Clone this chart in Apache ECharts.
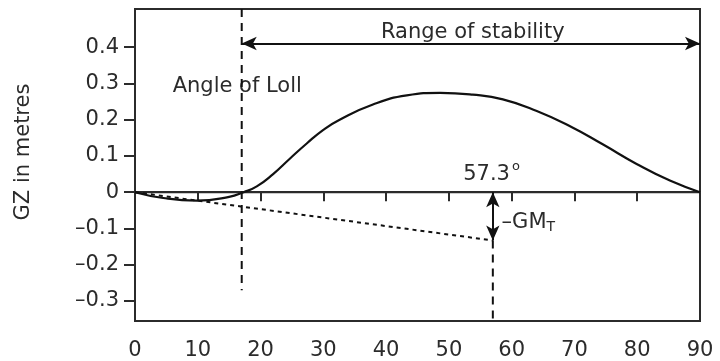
<!DOCTYPE html>
<html>
<head>
<meta charset="utf-8">
<script src="https://cdn.jsdelivr.net/npm/echarts@6/dist/echarts.min.js"></script>
<style>
  html, body { margin: 0; padding: 0; background: #fff; }
  #chart { width: 720px; height: 361px; }
</style>
</head>
<body>
<div id="chart"></div>
<script>
// GZ curve (heel angle in degrees, GZ in metres)
const gzAngles = [0, 4.5, 9.8, 15, 17.3, 19.4, 22, 24.7, 27.4, 30, 32.6, 37.9, 43.3, 48.6, 53.8, 58.6, 64, 69.3, 74.5, 79.9, 85.2, 90];
const gzValues = [0, -0.016, -0.023, -0.013, 0, 0.016, 0.05, 0.093, 0.135, 0.172, 0.2, 0.242, 0.267, 0.274, 0.269, 0.256, 0.224, 0.182, 0.132, 0.078, 0.032, 0];

const xTicks = [0, 10, 20, 30, 40, 50, 60, 70, 80, 90];
const yTicks = [-0.3, -0.2, -0.1, 0, 0.1, 0.2, 0.3, 0.4];

const lollAngle = 17;
const radianAngle = 57;      // 57.3 degrees mark
const gmValue = -0.133;      // tangent value at one radian
const rangeArrowY = 0.41;
const lollLineBottom = -0.27;
const zeroLineEnd = 93.2;

// annotation texts: [angle, gz, text]
const notes = [
  [53.8, 0.44, 'Range of stability'],
  [6, 0.32, 'Angle of Loll'],
  [56.8, 0.05, '57.3{sup|o}'],
  [58.4, -0.05, '–GM{sub|T}']
];

const yMin = -0.355, yMax = 0.505;
const ink = '#2b2b2b';
const font = "'DejaVu Sans', sans-serif";

const chart = echarts.init(document.getElementById('chart'));

chart.setOption({
  animation: false,
  backgroundColor: '#fff',
  textStyle: { fontFamily: font, color: ink },
  grid: {
    left: 135, right: 20, top: 9, bottom: 38,
    show: true, borderColor: ink, borderWidth: 2
  },
  graphic: [
    {
      type: 'text',
      x: 24, y: 152,
      rotation: Math.PI / 2,
      style: {
        text: 'GZ in metres',
        font: "21px 'DejaVu Sans', sans-serif",
        fill: ink,
        textAlign: 'center',
        textVerticalAlign: 'middle'
      }
    }
  ],
  xAxis: {
    type: 'value',
    min: 0, max: 90, interval: 10,
    splitLine: { show: false },
    axisLine: { lineStyle: { color: ink, width: 2 } },
    axisTick: { length: 9, lineStyle: { color: ink, width: 2 } },
    axisLabel: {
      fontSize: 21, color: ink, margin: 19, fontFamily: font,
      customValues: xTicks
    }
  },
  yAxis: {
    type: 'value',
    min: yMin, max: yMax,
    splitLine: { show: false },
    axisLine: { show: true, lineStyle: { color: ink, width: 2 } },
    axisTick: { length: 11, lineStyle: { color: ink, width: 2 }, customValues: yTicks },
    axisLabel: {
      fontSize: 21, color: ink, margin: 16, fontFamily: font,
      customValues: yTicks,
      formatter: v => v < 0 ? '–' + Math.abs(v) : String(v)
    }
  },
  series: [
    {
      name: 'zero',
      type: 'line',
      clip: false,
      symbol: 'none',
      data: [[0, 0], [zeroLineEnd, 0]],
      lineStyle: { color: ink, width: 2 }
    },
    {
      name: 'tangent',
      type: 'line',
      symbol: 'none',
      data: [[0, 0], [radianAngle, gmValue]],
      lineStyle: { color: '#111', width: 2, type: [4, 4] }
    },
    {
      name: 'GZ',
      type: 'line',
      symbol: 'none',
      smooth: true,
      data: gzAngles.map((a, i) => [a, gzValues[i]]),
      lineStyle: { color: '#111', width: 2.2 },
      markLine: {
        silent: true,
        symbol: ['arrow', 'arrow'],
        symbolSize: [10, 15],
        label: { show: false },
        lineStyle: { color: '#111', width: 2, type: 'solid' },
        data: [
          [{ coord: [lollAngle, rangeArrowY] }, { coord: [90, rangeArrowY] }],
          [{ coord: [radianAngle, 0] }, { coord: [radianAngle, gmValue] }]
        ]
      }
    },
    {
      name: 'loll',
      type: 'line',
      symbol: 'none',
      data: [[lollAngle, yMax], [lollAngle, lollLineBottom]],
      lineStyle: { color: '#111', width: 2, type: [8, 6] }
    },
    {
      name: 'radian',
      type: 'line',
      symbol: 'none',
      data: [[radianAngle, gmValue], [radianAngle, yMin]],
      lineStyle: { color: '#111', width: 2, type: [8, 6] }
    },
    {
      name: 'notes',
      type: 'scatter',
      symbolSize: 0,
      silent: true,
      itemStyle: { opacity: 1 },
      data: notes.map(n => ({ value: [n[0], n[1]], name: n[2] })),
      label: {
        show: true,
        position: 'inside',
        fontSize: 21,
        color: ink,
        fontFamily: font,
        formatter: p => p.name,
        rich: {
          sup: { fontSize: 13, color: ink, padding: [0, 0, 14, 2], fontFamily: font },
          sub: { fontSize: 14, color: ink, padding: [10, 0, 0, 0], fontFamily: font }
        }
      },
      labelLayout: params => {
        const i = params.dataIndex;
        if (i === 1 || i === 3) {
          return { x: params.rect.x + params.rect.width / 2, align: 'left' };
        }
        return {};
      }
    }
  ]
});
</script>
</body>
</html>
